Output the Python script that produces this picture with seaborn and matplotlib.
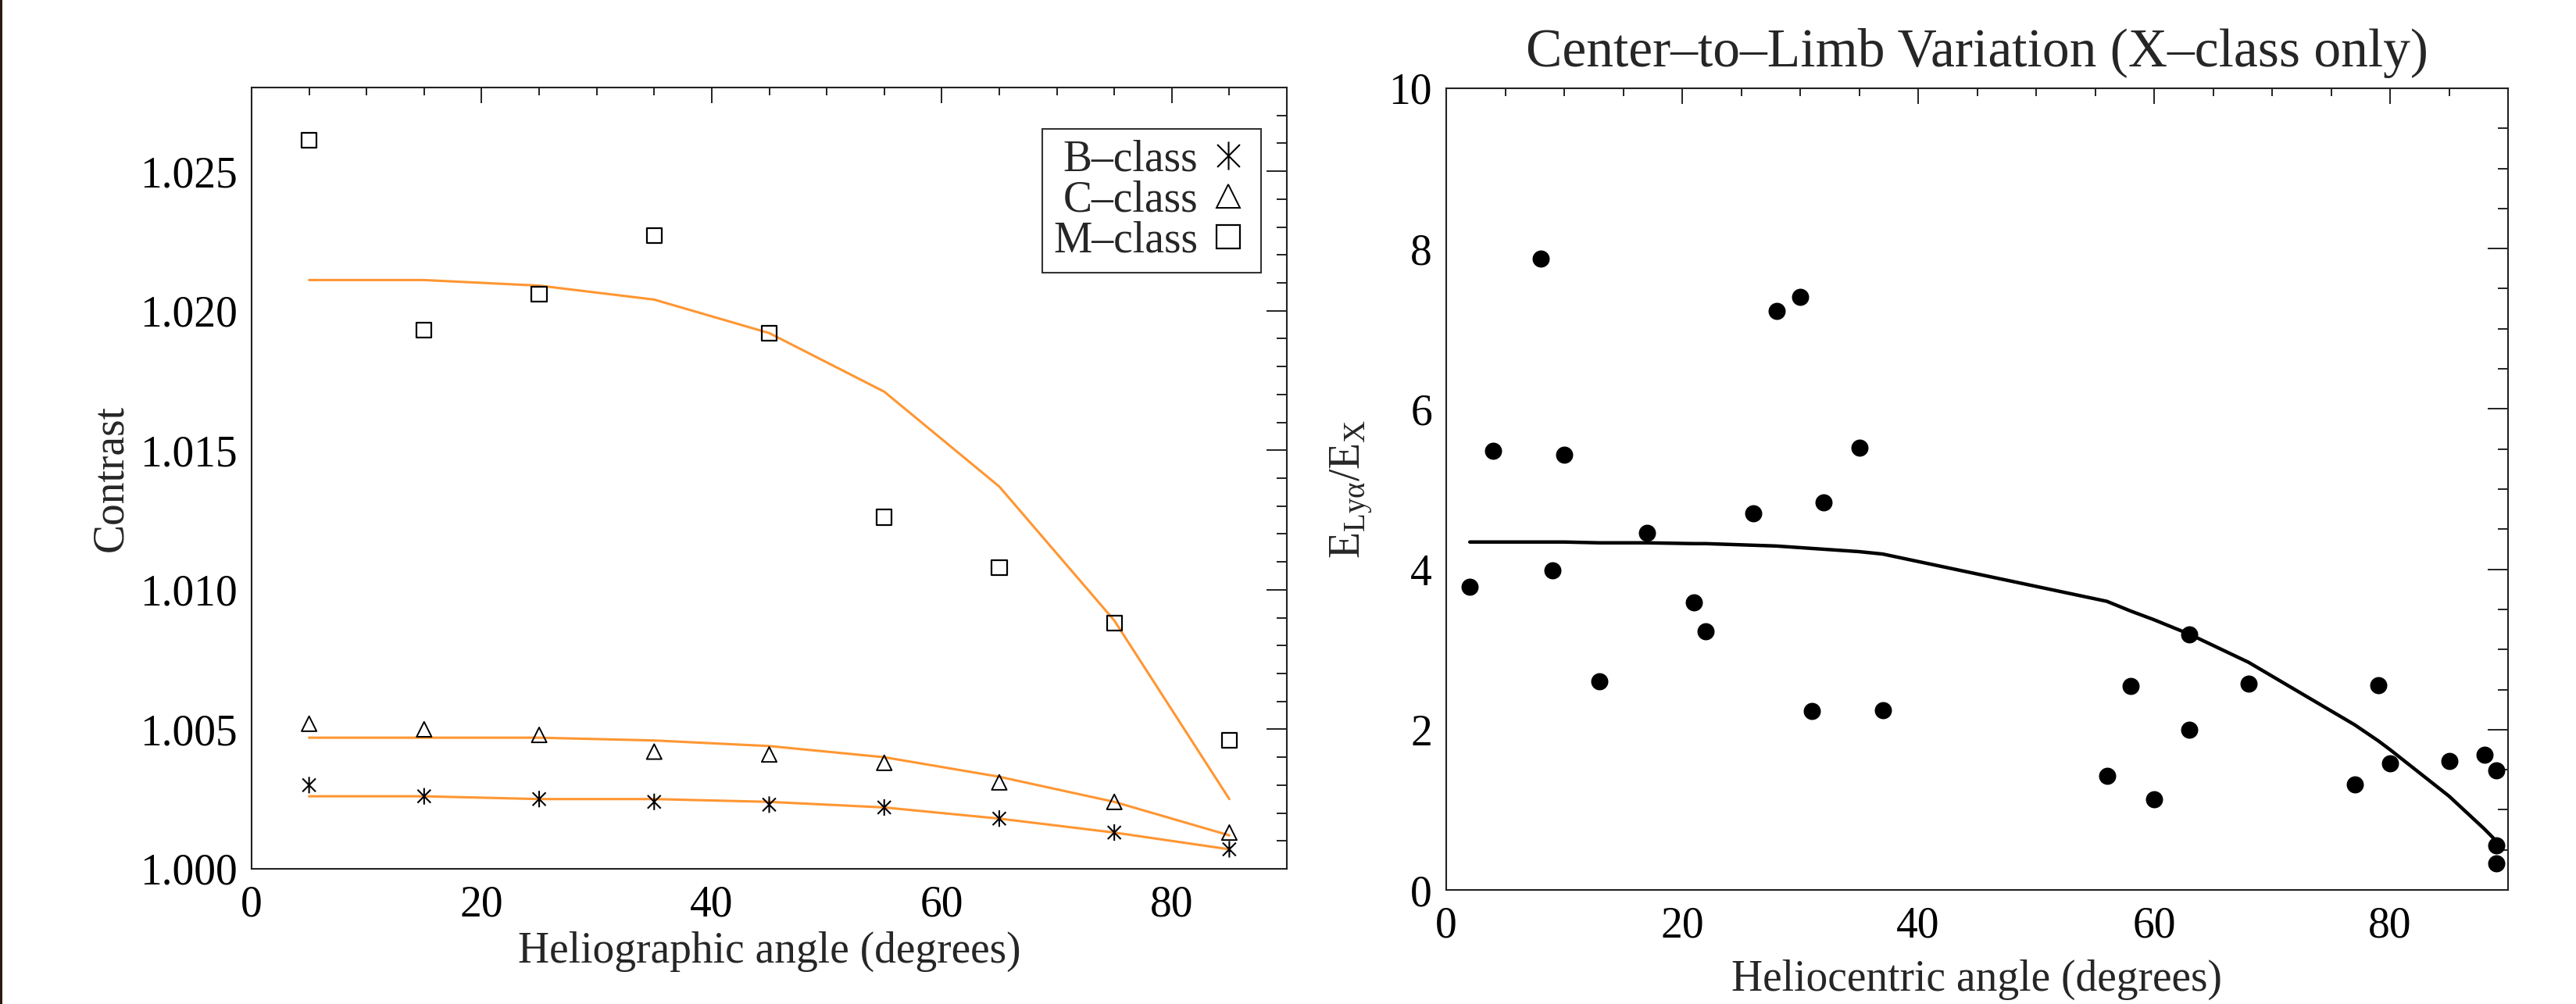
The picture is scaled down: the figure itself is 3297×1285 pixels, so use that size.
import numpy as np
import pandas as pd
import matplotlib
matplotlib.use('Agg')
import matplotlib.pyplot as plt
import seaborn as sns
from matplotlib.path import Path
from matplotlib.lines import Line2D
from matplotlib.ticker import MultipleLocator, FormatStrFormatter
from matplotlib.patches import Rectangle

# ---------------- data: left panel ----------------
helio_angle = [5, 15, 25, 35, 45, 55, 65, 75, 85]
b_class = [1.0030, 1.0026, 1.0025, 1.0024, 1.0023, 1.0022, 1.0018, 1.0013, 1.0007]
c_class = [1.0052, 1.0050, 1.0048, 1.0042, 1.0041, 1.0038, 1.0031, 1.0024, 1.0013]
m_class = [1.0261, 1.0193, 1.0206, 1.0227, 1.0192, 1.0126, 1.0108, 1.0088, 1.0046]
b_fit = [1.0026, 1.0026, 1.0025, 1.0025, 1.0024, 1.0022, 1.0018, 1.0013, 1.0007]
c_fit = [1.0047, 1.0047, 1.0047, 1.0046, 1.0044, 1.0040, 1.0033, 1.0024, 1.0012]
m_fit = [1.0211, 1.0211, 1.0209, 1.0204, 1.0192, 1.0171, 1.0137, 1.0089, 1.0025]
class_labels = ['B–class', 'C–class', 'M–class']

# ---------------- data: right panel ----------------
x_angle = [2, 4, 8, 9, 10, 13, 17, 21, 22, 26, 28, 30, 31, 32, 35, 37,
           56, 58, 60, 63, 63, 68, 77, 79, 80, 85, 88, 89, 89, 89]
x_ratio = [3.78, 5.48, 7.88, 3.99, 5.43, 2.60, 4.45, 3.59, 3.23, 4.70, 7.22, 7.40,
           2.23, 4.83, 5.52, 2.24, 1.42, 2.54, 1.13, 3.19, 2.00, 2.57, 1.32, 2.55,
           1.58, 1.61, 1.69, 1.49, 0.56, 0.33]
fit_angle = [2, 4, 8, 9, 10, 13, 17, 21, 22, 26, 28, 30, 31, 32, 35, 37,
             56, 58, 60, 63, 68, 77, 79, 80, 85, 88, 89]
fit_ratio = [4.34, 4.34, 4.34, 4.34, 4.34, 4.33, 4.33, 4.32, 4.32, 4.30, 4.29, 4.27,
             4.26, 4.25, 4.22, 4.19, 3.60, 3.48, 3.37, 3.19, 2.84, 2.06, 1.86, 1.75,
             1.17, 0.76, 0.61]

left_df = pd.DataFrame({'angle': helio_angle, 'B': b_class, 'C': c_class, 'M': m_class,
                        'Bf': b_fit, 'Cf': c_fit, 'Mf': m_fit})
right_pts = pd.DataFrame({'angle': x_angle, 'ratio': x_ratio})
right_fit = pd.DataFrame({'angle': fit_angle, 'ratio': fit_ratio})

# ---------------- style ----------------
sns.set_theme(style='white')
plt.rcParams['font.family'] = ['Liberation Serif', 'DejaVu Serif']
plt.rcParams['mathtext.fontset'] = 'custom'
plt.rcParams['mathtext.rm'] = 'Liberation Serif'
plt.rcParams['mathtext.it'] = 'Liberation Serif:italic'
plt.rcParams['axes.linewidth'] = 1.5
plt.rcParams['axes.edgecolor'] = '#222222'

FS = 40
ORANGE = '#ff9632'

W, H = 3297, 1285
fig = plt.figure(figsize=(W / 100, H / 100), dpi=100)
fig.patch.set_facecolor('white')

# asterisk marker: vertical line + X
ast = Path([(0, -1), (0, 1), (-0.8, -0.8), (0.8, 0.8), (-0.8, 0.8), (0.8, -0.8)],
           [Path.MOVETO, Path.LINETO, Path.MOVETO, Path.LINETO, Path.MOVETO, Path.LINETO])

def px_axes(l, t, r, b):
    return fig.add_axes([l / W, 1 - b / H, (r - l) / W, (b - t) / H])

# ---------------- left panel ----------------
ax1 = px_axes(322, 112, 1647, 1112)
for col in ['Bf', 'Cf', 'Mf']:
    sns.lineplot(data=left_df, x='angle', y=col, ax=ax1, color=ORANGE, lw=2.2,
                 estimator=None, sort=False)
sns.scatterplot(data=left_df, x='angle', y='B', ax=ax1, marker=ast, s=230,
                facecolor='none', edgecolor='black', linewidth=1.5, zorder=5)
sns.scatterplot(data=left_df, x='angle', y='C', ax=ax1, marker='^', s=190,
                facecolor='none', edgecolor='black', linewidth=1.4, zorder=5)
sns.scatterplot(data=left_df, x='angle', y='M', ax=ax1, marker='s', s=190,
                facecolor='none', edgecolor='black', linewidth=1.6, zorder=5)

ax1.set_xlim(0, 90)
ax1.set_ylim(1.000, 1.028)
ax1.xaxis.set_major_locator(MultipleLocator(20))
ax1.xaxis.set_minor_locator(MultipleLocator(5))
ax1.yaxis.set_major_locator(MultipleLocator(0.005))
ax1.yaxis.set_minor_locator(MultipleLocator(0.001))
ax1.yaxis.set_major_formatter(FormatStrFormatter('%.3f'))
ax1.set_xlabel('Heliographic angle (degrees)', fontsize=FS)
ax1.set_ylabel('Contrast', fontsize=FS)
ax1.xaxis.set_label_coords(0.5, -0.080)
ax1.yaxis.set_label_coords(-0.116, 0.5)

handles = [
    Line2D([], [], ls='none', marker=ast, markersize=26, markeredgecolor='black',
           markerfacecolor='none', markeredgewidth=1.5),
    Line2D([], [], ls='none', marker='^', markersize=21, markeredgecolor='black',
           markerfacecolor='none', markeredgewidth=1.4),
    Line2D([], [], ls='none', marker='s', markersize=21, markeredgecolor='black',
           markerfacecolor='none', markeredgewidth=1.6),
]
leg = ax1.legend(handles=handles, labels=class_labels, loc='upper right',
                 bbox_to_anchor=(0.975, 0.947), borderaxespad=0, markerfirst=False,
                 fontsize=FS, frameon=True, fancybox=False, framealpha=1,
                 edgecolor='#333333', handlelength=1.0, handletextpad=0.2,
                 labelspacing=0.0, borderpad=0.25)
leg.get_frame().set_linewidth(1.5)

# ---------------- right panel ----------------
ax2 = px_axes(1851, 113, 3210, 1139)
sns.lineplot(data=right_fit, x='angle', y='ratio', ax=ax2, color='black', lw=3.2,
             estimator=None, sort=False)
sns.scatterplot(data=right_pts, x='angle', y='ratio', ax=ax2, marker='o', s=250,
                color='black', edgecolor='black', linewidth=0, zorder=5)
ax2.set_xlim(0, 90)
ax2.set_ylim(0, 10)
ax2.xaxis.set_major_locator(MultipleLocator(20))
ax2.xaxis.set_minor_locator(MultipleLocator(5))
ax2.yaxis.set_major_locator(MultipleLocator(2))
ax2.yaxis.set_minor_locator(MultipleLocator(0.5))
ax2.set_xlabel('Heliocentric angle (degrees)', fontsize=FS)
ax2.set_ylabel(r'$\mathrm{E_{Ly\alpha}/E_X}$', fontsize=FS)
ax2.xaxis.set_label_coords(0.5, -0.087)
ax2.yaxis.set_label_coords(-0.067, 0.5)
ax2.set_title('Center–to–Limb Variation (X–class only)', fontsize=50, pad=20)

for ax in (ax1, ax2):
    ax.tick_params(which='both', direction='in', top=True, right=True,
                   colors='#222222', width=1.4, labelsize=FS, labelcolor='black')
    ax.tick_params(axis='y', which='major', length=18.7, pad=13)
    ax.tick_params(axis='y', which='minor', length=9.4)
    ax.tick_params(axis='x', which='major', length=14.4, pad=15)
    ax.tick_params(axis='x', which='minor', length=7.2)
    for sp in ax.spines.values():
        sp.set_visible(True)
        sp.set_linewidth(1.5)
    ax.set_facecolor('white')

# thin dark strip at the far left edge
fig.patches.append(Rectangle((0, 0), 3 / W, 1, transform=fig.transFigure,
                             facecolor='#2b1a12', edgecolor='none'))

fig.savefig('out.png', dpi=100, facecolor='white')
